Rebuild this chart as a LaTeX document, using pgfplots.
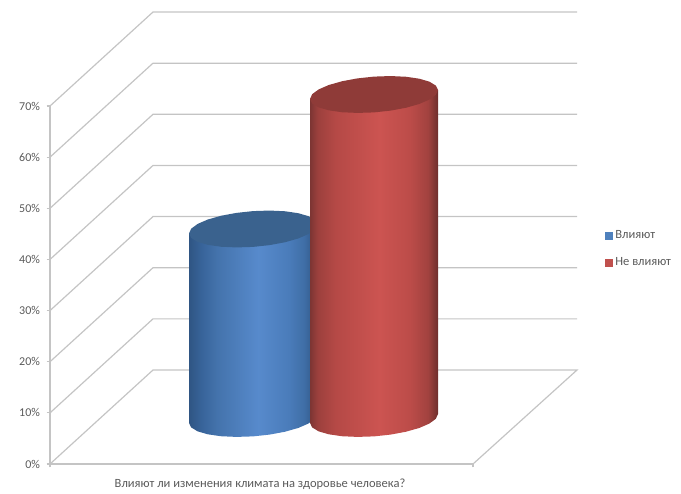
\documentclass[border=0pt]{standalone}
\usepackage{fontspec}
\setmainfont{Carlito}
\usepackage{pgfplots}
\pgfplotsset{compat=1.18}
\definecolor{axisgray}{HTML}{C4C4C4}
\definecolor{labelgray}{HTML}{5A5A5A}
\definecolor{bluetop}{HTML}{3A628E}
\definecolor{redtop}{HTML}{8F3B38}
\definecolor{bluemark}{HTML}{4F81BD}
\definecolor{redmark}{HTML}{C0504D}
\definecolor{ba}{HTML}{2F5583}
\definecolor{bb}{HTML}{38649A}
\definecolor{bc}{HTML}{4473AC}
\definecolor{bd}{HTML}{578ACC}
\definecolor{be}{HTML}{4A7CBA}
\definecolor{bf}{HTML}{3F6EA6}
\definecolor{bg}{HTML}{2E5380}
\definecolor{ra}{HTML}{7C3533}
\definecolor{rb}{HTML}{9C403D}
\definecolor{rc}{HTML}{B54946}
\definecolor{rd}{HTML}{CC5451}
\definecolor{re}{HTML}{BC4C49}
\definecolor{rf}{HTML}{A2423F}
\definecolor{rg}{HTML}{6E2E2C}
\pgfdeclarehorizontalshading{bluebody}{100bp}{color(0bp)=(ba);color(25bp)=(ba);color(30bp)=(bb);color(36bp)=(bc);color(52bp)=(bd);color(64bp)=(be);color(70bp)=(bf);color(75bp)=(bg);color(100bp)=(bg)}
\pgfdeclarehorizontalshading{redbody}{100bp}{color(0bp)=(ra);color(25bp)=(ra);color(28bp)=(rb);color(35bp)=(rc);color(52bp)=(rd);color(64bp)=(re);color(71bp)=(rf);color(75bp)=(rg);color(100bp)=(rg)}
\begin{document}
\begin{tikzpicture}
% page frame, 1 px of the reference = 0.75pt
\path (-37.5pt,-21pt) rectangle (473.25pt,348pt);
\begin{axis}[
    scale only axis,
    width=317.25pt, height=268.5pt,
    xmin=50, xmax=473,
    ymin=0, ymax=70,
    clip=false,
    axis lines=left,
    axis line style={axisgray, line width=1.2pt, -},
    tick style={axisgray, line width=0.9pt},
    tick align=outside,
    major tick length=2.5pt,
    ytick={0,10,20,30,40,50,60,70},
    yticklabel={\pgfmathprintnumber{\tick}\%},
    y tick label style={/pgf/number format/assume math mode=true, font=\fontsize{9}{10}\selectfont, text=labelgray, xshift=-1.5pt},
    xtick={50,473},
    xticklabels={},
    extra x ticks={260},
    extra x tick labels={Влияют ли изменения климата на здоровье человека?},
    extra x tick style={major tick length=0pt, tick label style={font=\fontsize{9.4}{10}\selectfont, text=labelgray, yshift=-7.5pt}},
    legend style={draw=none, fill=none, at={(1.312,0.660)}, anchor=north west, font=\fontsize{9.4}{10}\selectfont, text=labelgray, row sep=8.5pt, inner sep=0pt},
    legend cell align=left,
    legend image code/.code={\fill[#1] (0pt,-2.6pt) rectangle (5.2pt,2.6pt);},
]
% grid on the floor side and the back wall
\addplot[axisgray, line width=0.9pt, forget plot] coordinates {(50,0) (153,18.38) (577,18.38) (473,0)};
\addplot[axisgray, line width=0.9pt, forget plot] coordinates {(50,10) (153,28.38) (577,28.38)};
\addplot[axisgray, line width=0.9pt, forget plot] coordinates {(50,20) (153,38.38) (577,38.38)};
\addplot[axisgray, line width=0.9pt, forget plot] coordinates {(50,30) (153,48.38) (577,48.38)};
\addplot[axisgray, line width=0.9pt, forget plot] coordinates {(50,40) (153,58.38) (577,58.38)};
\addplot[axisgray, line width=0.9pt, forget plot] coordinates {(50,50) (153,68.38) (577,68.38)};
\addplot[axisgray, line width=0.9pt, forget plot] coordinates {(50,60) (153,78.38) (577,78.38)};
\addplot[axisgray, line width=0.9pt, forget plot] coordinates {(50,70) (153,88.38) (577,88.38)};
% blue cylinder
\addplot[draw=none, shading=bluebody, forget plot] coordinates {
    (317,46.83) (317,9.78) (314.8,8.84) (308.4,7.91) (298.3,7.05) (285,6.31) (269.6,5.75) (253,5.40)
    (236.4,5.30) (221,5.43) (207.7,5.81) (197.6,6.39) (191.2,7.15) (189,8.02) (189,45.07) (317,46.83)};
\addplot[draw=none, fill=bluetop, forget plot] coordinates {
    (317,46.83) (314.8,45.89) (308.4,44.96) (298.3,44.10) (285,43.36) (269.6,42.80) (253,42.45) (236.4,42.35)
    (221,42.48) (207.7,42.86) (197.6,43.44) (191.2,44.20) (189,45.07) (191.2,46.01) (197.6,46.94) (207.7,47.80)
    (221,48.54) (236.4,49.10) (253,49.45) (269.6,49.56) (285,49.42) (298.3,49.04) (308.4,48.46) (314.8,47.70) (317,46.83)};
% red cylinder
\addplot[draw=none, shading=redbody, forget plot] coordinates {
    (438,73.13) (438,9.78) (435.8,8.84) (429.4,7.91) (419.3,7.05) (406,6.31) (390.6,5.75) (374,5.40)
    (357.4,5.30) (342,5.43) (328.7,5.81) (318.6,6.39) (312.2,7.15) (310,8.02) (310,71.37) (438,73.13)};
\addplot[draw=none, fill=redtop, forget plot] coordinates {
    (438,73.13) (435.8,72.19) (429.4,71.26) (419.3,70.40) (406,69.66) (390.6,69.10) (374,68.75) (357.4,68.65)
    (342,68.78) (328.7,69.16) (318.6,69.74) (312.2,70.50) (310,71.37) (312.2,72.31) (318.6,73.24) (328.7,74.10)
    (342,74.84) (357.4,75.40) (374,75.75) (390.6,75.86) (406,75.72) (419.3,75.34) (429.4,74.76) (435.8,74.00) (438,73.13)};
\addlegendimage{bluemark}
\addlegendentry{Влияют}
\addlegendimage{redmark}
\addlegendentry{Не влияют}
\end{axis}
\end{tikzpicture}
\end{document}
